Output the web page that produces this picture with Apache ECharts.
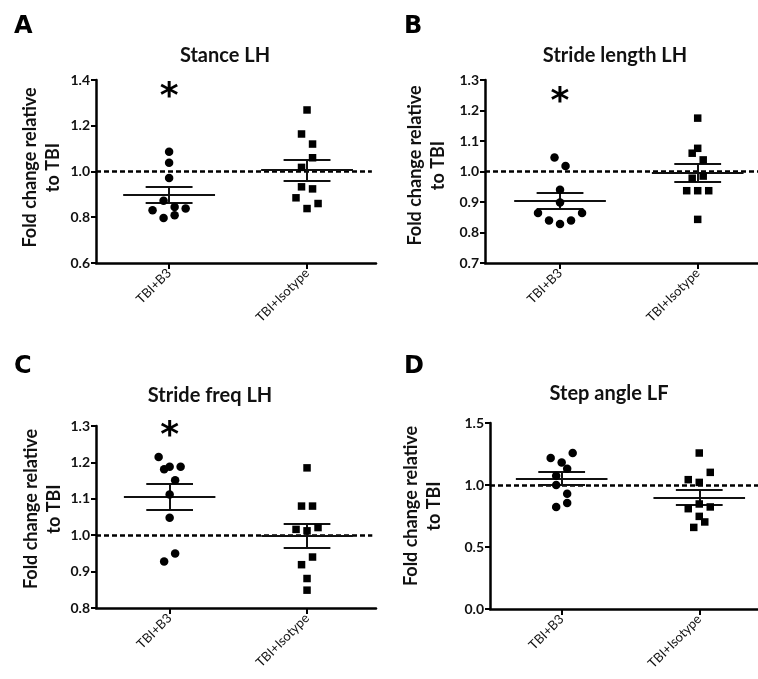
<!DOCTYPE html>
<html>
<head>
<meta charset="utf-8">
<script src="https://cdn.jsdelivr.net/npm/echarts@6/dist/echarts.min.js"></script>
<style>
html,body{margin:0;padding:0;background:#fff;}
#main{width:758px;height:679px;}
</style>
</head>
<body>
<div id="main"></div>
<script>
// groups and panel titles
var groups = ['TBI+B3', 'TBI+Isotype'];
var titles = ['Stance LH', 'Stride length LH', 'Stride freq LH', 'Step angle LF'];
var letters = ['A', 'B', 'C', 'D'];
var yMin = [0.6, 0.7, 0.8, 0.0];
var yMax = [1.4, 1.3, 1.3, 1.5];
var yStep = [0.2, 0.1, 0.1, 0.5];
var starY = [1.325, 1.225, 1.272, null];   // "*" marks, null = none

// values (fold change); jit = horizontal spread of the dots
var stanceB3 = [1.086, 1.038, 0.972, 0.872, 0.831, 0.845, 0.838, 0.797, 0.809];
var stanceB3Jit = [0, 0, 0, -0.04, -0.12, 0.04, 0.12, -0.04, 0.04];
var stanceIso = [1.269, 1.164, 1.120, 1.060, 1.018, 0.933, 0.924, 0.885, 0.838, 0.860];
var stanceIsoJit = [0, -0.04, 0.04, 0.04, -0.04, -0.04, 0.04, -0.08, 0, 0.08];

var strideLenB3 = [1.046, 1.018, 0.940, 0.898, 0.864, 0.839, 0.828, 0.839, 0.864];
var strideLenB3Jit = [-0.04, 0.04, 0, 0, -0.16, -0.08, 0, 0.08, 0.16];
var strideLenIso = [1.175, 1.076, 1.060, 1.038, 0.978, 0.985, 0.937, 0.937, 0.937, 0.843];
var strideLenIsoJit = [0, 0, -0.04, 0.04, -0.04, 0.04, -0.08, 0, 0.08, 0];

var strideFreqB3 = [1.215, 1.181, 1.188, 1.188, 1.151, 1.112, 1.048, 0.950, 0.928];
var strideFreqB3Jit = [-0.08, -0.04, 0, 0.08, 0.04, 0, 0, 0.04, -0.04];
var strideFreqIso = [1.185, 1.080, 1.080, 1.016, 1.012, 1.021, 0.940, 0.919, 0.881, 0.849];
var strideFreqIsoJit = [0, -0.04, 0.04, -0.08, 0, 0.08, 0.04, -0.04, 0, 0];

var stepAngleB3 = [1.218, 1.182, 1.258, 1.131, 1.075, 1.000, 0.930, 0.855, 0.823];
var stepAngleB3Jit = [-0.08, 0, 0.08, 0.04, -0.04, -0.04, 0.04, 0.04, -0.04];
var stepAngleIso = [1.258, 1.102, 1.043, 1.021, 0.847, 0.809, 0.823, 0.747, 0.702, 0.658];
var stepAngleIsoJit = [0, 0.08, -0.08, 0, 0, -0.08, 0.08, 0, 0.04, -0.04];

var panels = [
  [stanceB3, stanceB3Jit, stanceIso, stanceIsoJit],
  [strideLenB3, strideLenB3Jit, strideLenIso, strideLenIsoJit],
  [strideFreqB3, strideFreqB3Jit, strideFreqIso, strideFreqIsoJit],
  [stepAngleB3, stepAngleB3Jit, stepAngleIso, stepAngleIsoJit]
];

// layout
var boxes = [
  {left: 96, top: 80, width: 280, height: 183},
  {left: 485, top: 80, width: 273, height: 183},
  {left: 96, top: 426, width: 280, height: 182},
  {left: 490, top: 423, width: 268, height: 186}
];
var xMin = [0.47, 0.455, 0.464, 0.479];
var xMax = [2.5, 2.438, 2.502, 2.427];
var dashEnd = [2.47, 2.438, 2.475, 2.427];
var titleX = [225, 615, 210, 609];
var titleY = [46, 46, 386, 384];
var letterPos = [[14, 15], [404, 15], [14, 355], [404, 355]];
var nameGap = [31, 35, 30, 44];
var nameShift = [8, 12, 16, 20];

function mean(a) {
  var s = 0;
  for (var i = 0; i < a.length; i++) s += a[i];
  return s / a.length;
}
function sem(a) {
  var m = mean(a), s = 0;
  for (var i = 0; i < a.length; i++) s += (a[i] - m) * (a[i] - m);
  return Math.sqrt(s / (a.length - 1)) / Math.sqrt(a.length);
}

var barStyle = {color: '#111', width: 2, type: 'solid'};
function errorBars(g, vals) {
  var m = mean(vals), s = sem(vals);
  return [
    [{coord: [g - 0.333, m], lineStyle: barStyle}, {coord: [g + 0.333, m]}],
    [{coord: [g - 0.17, m + s], lineStyle: barStyle}, {coord: [g + 0.17, m + s]}],
    [{coord: [g - 0.17, m - s], lineStyle: barStyle}, {coord: [g + 0.17, m - s]}],
    [{coord: [g, m - s], lineStyle: barStyle}, {coord: [g, m + s]}]
  ];
}

var grids = [], xAxes = [], yAxes = [], series = [], titleList = [];
var font = 'Lato, "Open Sans", sans-serif';

for (var i = 0; i < 4; i++) {
  var b = boxes[i];
  grids.push({left: b.left, top: b.top, width: b.width, height: b.height, outerBoundsMode: 'none'});

  xAxes.push({
    gridIndex: i, type: 'value', min: xMin[i], max: xMax[i],
    axisLine: {show: true, onZero: false, lineStyle: {color: '#000', width: 2.5}},
    axisTick: {show: true, customValues: [1, 2], length: 6, lineStyle: {color: '#000', width: 2}},
    axisLabel: {
      customValues: [1, 2], rotate: 45, margin: 8, fontSize: 13, color: '#111', fontFamily: font,
      formatter: function (v) { return groups[Math.round(v) - 1]; }
    },
    splitLine: {show: false}
  });

  yAxes.push({
    gridIndex: i, type: 'value', min: yMin[i], max: yMax[i], interval: yStep[i],
    axisLine: {show: true, onZero: false, lineStyle: {color: '#000', width: 2.5}},
    axisTick: {show: true, length: 5, lineStyle: {color: '#000', width: 2}},
    axisLabel: {
      margin: 6, fontSize: 14, fontWeight: 'bold', color: '#111', fontFamily: font,
      formatter: function (v) { return v.toFixed(1); }
    },
    splitLine: {show: false},
    name: 'Fold change relative\nto TBI', nameLocation: 'middle', nameGap: nameGap[i],
    nameTextStyle: {fontSize: 18, fontWeight: 'bold', lineHeight: 23, color: '#111', fontFamily: font,
      padding: [0, 0, 0, nameShift[i]]}
  });

  var p = panels[i];
  var b3Pts = p[0].map(function (v, k) { return [1 + p[1][k], v]; });
  var isoPts = p[2].map(function (v, k) { return [2 + p[3][k], v]; });

  var lines = [
    [{coord: [xMin[i], 1], lineStyle: {color: '#000', width: 2.5, type: [5, 3]}}, {coord: [dashEnd[i], 1]}]
  ].concat(errorBars(1, p[0]), errorBars(2, p[2]));

  series.push({
    type: 'scatter', xAxisIndex: i, yAxisIndex: i, data: b3Pts,
    symbol: 'circle', symbolSize: 8.5, itemStyle: {color: '#000', opacity: 1}, z: 3,
    markLine: {silent: true, symbol: ['none', 'none'], label: {show: false}, animation: false, data: lines, z: 2}
  });
  series.push({
    type: 'scatter', xAxisIndex: i, yAxisIndex: i, data: isoPts,
    symbol: 'rect', symbolSize: 7.5, itemStyle: {color: '#000', opacity: 1}, z: 3
  });
  if (starY[i] != null) {
    series.push({
      type: 'scatter', xAxisIndex: i, yAxisIndex: i, data: [[1, starY[i]]],
      symbolSize: 1, itemStyle: {color: 'rgba(0,0,0,0)'}, silent: true,
      label: {show: true, position: 'inside', formatter: '*', fontSize: 36, fontWeight: 'bold',
        color: '#000', opacity: 1, fontFamily: 'DejaVu Sans, sans-serif'}
    });
  }

  titleList.push({
    text: titles[i], left: titleX[i], top: titleY[i], textAlign: 'center', padding: 0,
    textStyle: {fontSize: 20, fontWeight: 'bold', color: '#111', fontFamily: font}
  });
  titleList.push({
    text: letters[i], left: letterPos[i][0], top: letterPos[i][1], padding: 0,
    textStyle: {fontSize: 24, fontWeight: 'bold', color: '#000', fontFamily: '"DejaVu Sans", sans-serif'}
  });
}

var chart = echarts.init(document.getElementById('main'), null, {renderer: 'canvas'});
chart.setOption({
  animation: false,
  backgroundColor: '#fff',
  title: titleList,
  grid: grids,
  xAxis: xAxes,
  yAxis: yAxes,
  series: series
});
</script>
</body>
</html>
